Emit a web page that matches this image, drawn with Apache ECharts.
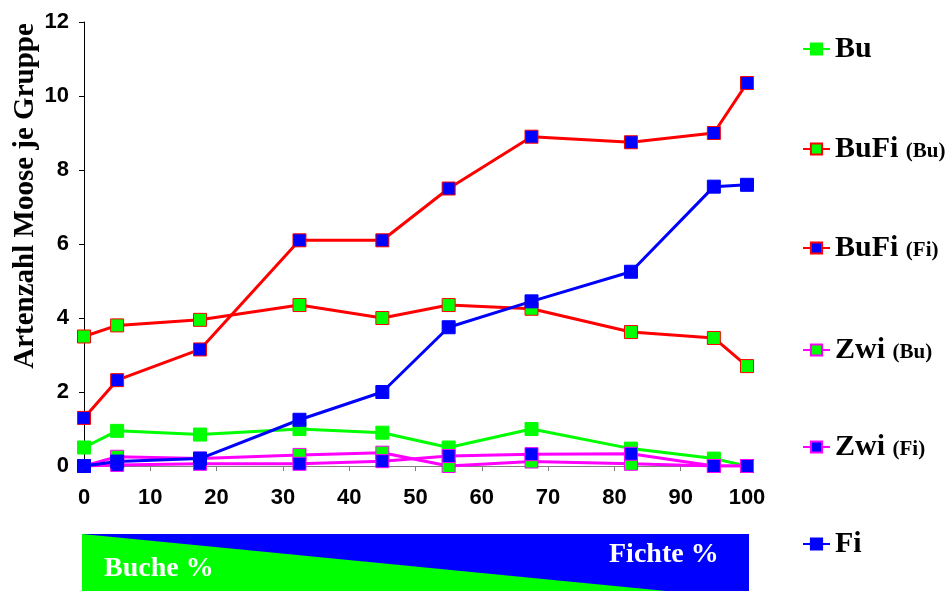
<!DOCTYPE html>
<html><head><meta charset="utf-8">
<script src="https://cdn.jsdelivr.net/npm/echarts@6/dist/echarts.min.js"></script>
<style>html,body{margin:0;padding:0;background:#fff}#c{width:949px;height:591px}</style>
</head><body><div id="c"></div>
<script>
const xValues = [0, 5, 17.5, 32.5, 45, 55, 67.5, 82.5, 95, 100];
const bu      = [0.5, 0.95, 0.85, 1.0, 0.9, 0.5, 1.0, 0.47, 0.2, 0];
const bufiBu  = [3.5, 3.8, 3.95, 4.35, 4.0, 4.35, 4.25, 3.62, 3.46, 2.7];
const bufiFi  = [1.3, 2.32, 3.15, 6.1, 6.1, 7.5, 8.9, 8.75, 9.0, 10.35];
const zwiBu   = [0, 0.25, 0.2, 0.3, 0.36, 0, 0.12, 0.06, 0, 0];
const zwiFi   = [0, 0.03, 0.06, 0.06, 0.13, 0.27, 0.32, 0.33, 0, 0];
const fi      = [0, 0.12, 0.2, 1.25, 2.0, 3.75, 4.45, 5.25, 7.55, 7.6];
const yTicks  = [0, 2, 4, 6, 8, 10, 12];
const xTicks  = [0, 10, 20, 30, 40, 50, 60, 70, 80, 90, 100];
const seriesNames = ['Bu','BuFi (Bu)','BuFi (Fi)','Zwi (Bu)','Zwi (Fi)','Fi'];
const yAxisTitle = 'Artenzahl Moose je Gruppe';

const GREEN = '#00ff00', RED = '#ff0000', BLUE = '#0000ff', MAG = '#ff00ff';
const SERIF = '"Liberation Serif", "Times New Roman", serif';
const SANS = '"Liberation Sans Narrow", "Liberation Sans", Arial, sans-serif';
function pairs(ys){ return xValues.map((x,i)=>[x, ys[i]]); }
function mk(name, ys, line, fill){
  return {
    name, type:'line', data: pairs(ys), symbol:'rect', symbolSize:13,
    lineStyle:{color:line, width:3}, itemStyle:{color:fill, borderColor:line, borderWidth:1},
    emphasis:{disabled:true}
  };
}
const legendCenters = [44, 144, 243, 345, 442, 539];
const legends = seriesNames.map((n,i)=>({
  orient:'vertical', left:797, top:legendCenters[i]-15, itemWidth:27, itemHeight:14, itemGap:0,
  selectedMode:false, data:[n],
  textStyle:{color:'#000', fontFamily:SERIF, fontWeight:'bold', fontSize:30,
    rich:{a:{fontFamily:SERIF, fontWeight:'bold', fontSize:30, lineHeight:30, color:'#000'},
          b:{fontFamily:SERIF, fontWeight:'bold', fontSize:21, lineHeight:30, color:'#000', padding:[5,0,0,0]}}},
  formatter:function(s){
    const m = s.match(/^(\S+) (\(.*\))$/);
    return m ? '{a|'+m[1]+'} {b|'+m[2]+'}' : '{a|'+s+'}';
  }
}));
const chart = echarts.init(document.getElementById('c'), null, {renderer:'canvas'});
chart.setOption({
  animation:false,
  grid:{left:84, right:202, top:22, bottom:125, containLabel:false},
  xAxis:{type:'value', min:0, max:100, interval:10,
    axisLine:{lineStyle:{color:'#808080', width:1}},
    axisTick:{show:true, length:5, lineStyle:{color:'#808080'}},
    splitLine:{show:false},
    axisLabel:{color:'#000', fontFamily:SANS, fontWeight:'bold', fontSize:22, margin:21,
      formatter:v=> xTicks.includes(v) ? String(v) : ''}
  },
  yAxis:{type:'value', min:0, max:12, interval:2,
    axisLine:{show:true, lineStyle:{color:'#000', width:1}},
    axisTick:{show:true, length:5, lineStyle:{color:'#000'}},
    splitLine:{show:false},
    axisLabel:{color:'#000', fontFamily:SANS, fontWeight:'bold', fontSize:22, margin:15,
      formatter:v=> yTicks.includes(v) ? String(v) : ''}
  },
  legend: legends,
  series:[
    mk(seriesNames[0], bu, GREEN, GREEN),
    mk(seriesNames[1], bufiBu, RED, GREEN),
    mk(seriesNames[2], bufiFi, RED, BLUE),
    mk(seriesNames[3], zwiBu, MAG, GREEN),
    mk(seriesNames[4], zwiFi, MAG, BLUE),
    mk(seriesNames[5], fi, BLUE, BLUE)
  ],
  graphic:[
    {type:'text', x:26, y:196, rotation:Math.PI/2, silent:true,
      style:{text:yAxisTitle, fill:'#000', font:'bold 29px '+SERIF, align:'center', verticalAlign:'middle'}},
    {type:'rect', shape:{x:82, y:534, width:667, height:57}, style:{fill:BLUE}, silent:true},
    {type:'polygon', shape:{points:[[82,534],[82,591],[666,591]]}, style:{fill:GREEN}, silent:true},
    {type:'text', left:104, top:555, style:{text:'Buche %', fill:'#fff', font:'bold 28px '+SERIF}},
    {type:'text', left:609, top:541, style:{text:'Fichte %', fill:'#fff', font:'bold 28px '+SERIF}}
  ]
});
</script></body></html>
